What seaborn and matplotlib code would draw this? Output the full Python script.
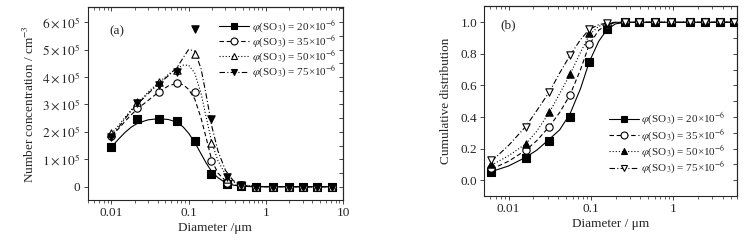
import matplotlib
matplotlib.use("Agg")
import matplotlib.pyplot as plt
from matplotlib.lines import Line2D
from matplotlib.ticker import MultipleLocator, NullFormatter, LogLocator
import seaborn as sns

sns.set_style("ticks")
plt.rcParams["font.family"] = ["Liberation Serif", "DejaVu Serif"]
plt.rcParams["mathtext.fontset"] = "stix"
plt.rcParams["font.size"] = 9.5
plt.rcParams["axes.linewidth"] = 0.8

so3_levels = ["20", "35", "50", "75"]

# ---- panel (a): number concentration, units of 1e5 cm^-3
diam_a = [0.01, 0.0217, 0.041, 0.0713, 0.12, 0.196, 0.313, 0.479, 0.75, 1.23, 1.99, 3.0, 4.58, 7.3]
conc_a = [
    [1.45, 2.47, 2.47, 2.39, 1.65, 0.46, 0.11, 0.04, 0, 0, 0, 0, 0, 0],
    [1.85, 2.87, 3.47, 3.78, 3.47, 0.95, 0.15, 0.05, 0, 0, 0, 0, 0, 0],
    [1.95, 3.10, 3.80, 4.27, 4.85, 1.58, 0.30, 0.06, 0, 0, 0, 0, 0, 0],
    [1.83, 3.05, 3.72, 4.17, 5.76, 2.48, 0.37, 0.05, 0, 0, 0, 0, 0, 0],
]
# fitted curves
fit_x_a = [0.01, 0.0125, 0.015, 0.018, 0.022, 0.03, 0.041, 0.055, 0.071, 0.085, 0.1, 0.12,
           0.145, 0.17, 0.2, 0.24, 0.3, 0.38, 0.48, 0.75, 7.3]
fit_a = [
    [1.45, 1.75, 1.98, 2.17, 2.32, 2.44, 2.48, 2.45, 2.35, 2.18, 1.95, 1.62, 1.2, 0.85, 0.55, 0.33, 0.15, 0.06, 0.02, 0, 0],
    [1.85, 2.13, 2.38, 2.62, 2.85, 3.15, 3.45, 3.68, 3.77, 3.72, 3.55, 3.2, 2.5, 1.75, 0.95, 0.5, 0.22, 0.08, 0.03, 0, 0],
    [1.93, 2.25, 2.53, 2.8, 3.05, 3.45, 3.8, 4.1, 4.32, 4.43, 4.43, 4.15, 3.4, 2.5, 1.6, 0.95, 0.45, 0.18, 0.06, 0.01, 0],
    [1.85, 2.18, 2.48, 2.76, 3.02, 3.4, 3.75, 4.05, 4.35, 4.7, 5.0, 4.95, 4.3, 3.3, 2.2, 1.3, 0.6, 0.22, 0.08, 0.01, 0],
]

# ---- panel (b): cumulative distribution
diam_b = [0.0062, 0.0162, 0.0314, 0.0559, 0.096, 0.158, 0.264, 0.387, 0.605, 0.955, 1.62, 2.42, 3.68, 5.5]
cum_b = [
    [0.05, 0.14, 0.25, 0.40, 0.75, 0.96, 1, 1, 1, 1, 1, 1, 1, 1],
    [0.075, 0.19, 0.34, 0.54, 0.86, 0.985, 1, 1, 1, 1, 1, 1, 1, 1],
    [0.10, 0.23, 0.43, 0.67, 0.93, 0.99, 1, 1, 1, 1, 1, 1, 1, 1],
    [0.125, 0.34, 0.56, 0.79, 0.955, 0.995, 1, 1, 1, 1, 1, 1, 1, 1],
]
fit_x_b = [0.0062, 0.01, 0.0162, 0.022, 0.0314, 0.042, 0.0559, 0.075, 0.096, 0.125, 0.158, 0.2, 0.264, 5.5]
fit_b = [
    [0.055, 0.09, 0.145, 0.19, 0.26, 0.32, 0.42, 0.58, 0.75, 0.88, 0.955, 0.99, 1.0, 1.0],
    [0.07, 0.12, 0.19, 0.25, 0.34, 0.43, 0.54, 0.70, 0.86, 0.95, 0.985, 0.998, 1.0, 1.0],
    [0.095, 0.155, 0.23, 0.31, 0.43, 0.55, 0.67, 0.81, 0.92, 0.975, 0.99, 1.0, 1.0, 1.0],
    [0.12, 0.22, 0.34, 0.44, 0.56, 0.68, 0.79, 0.89, 0.955, 0.985, 0.995, 1.0, 1.0, 1.0],
]

# marker, face colour, line style
styles_a = [("s", "k", "-"), ("o", "white", (0, (4, 2.5))), ("^", "white", (0, (1, 1.8))), ("v", "k", (0, (5, 2, 1, 2)))]
styles_b = [("s", "k", "-"), ("o", "white", (0, (4, 2.5))), ("^", "k", (0, (1, 1.8))), ("v", "white", (0, (5, 2, 1, 2)))]


def label(level):
    return r"$\varphi$(SO$_3$) = " + level + r"×10$^{-6}$"


def draw(ax, xs, ys_all, fx, fy_all, styles):
    for ys, fy, (m, fc, ls) in zip(ys_all, fy_all, styles):
        sns.lineplot(x=fx, y=fy, ax=ax, color="k", lw=0.8, linestyle=ls,
                     estimator=None, sort=False, legend=False)
        sns.scatterplot(x=xs, y=ys, ax=ax, marker=m, s=28, color=fc,
                        edgecolor="k", linewidth=0.8, zorder=3, legend=False)
    handles = [Line2D([], [], color="k", lw=0.8, linestyle=ls, marker=m, markersize=5.0,
                      markerfacecolor=fc, markeredgecolor="k", markeredgewidth=0.8)
               for m, fc, ls in styles]
    return handles


def mirror(ax, ymajor, yminor):
    top = ax.secondary_xaxis("top")
    top.tick_params(which="both", direction="in", labeltop=False)
    top.tick_params(which="major", length=3, width=0.6)
    top.tick_params(which="minor", length=1.8, width=0.5)
    top.xaxis.set_major_formatter(NullFormatter())
    top.xaxis.set_minor_formatter(NullFormatter())
    right = ax.secondary_yaxis("right")
    right.yaxis.set_major_locator(MultipleLocator(ymajor))
    right.yaxis.set_minor_locator(MultipleLocator(yminor))
    right.yaxis.set_major_formatter(NullFormatter())
    right.tick_params(which="both", direction="in", labelright=False)
    right.tick_params(which="major", length=3, width=0.6)
    right.tick_params(which="minor", length=3, width=0.6)


fig = plt.figure(figsize=(7.55, 2.43), dpi=100)
ax1 = fig.add_axes([0.1159, 0.1749, 0.3384, 0.7963])
ax2 = fig.add_axes([0.6417, 0.1934, 0.3345, 0.7799])

# panel a
ax1.set_xscale("log")
h1 = draw(ax1, diam_a, conc_a, fit_x_a, fit_a, styles_a)
ax1.set_xlim(0.0049, 10)
ax1.set_ylim(-0.5, 6.55)
ax1.set_xticks([0.01, 0.1, 1, 10], ["0.01", "0.1", "1", "10"])
ax1.xaxis.set_minor_locator(LogLocator(subs=range(2, 10)))
ax1.xaxis.set_minor_formatter(NullFormatter())
ax1.set_yticks(range(7), ["0"] + [rf"${k}\times10^5$" for k in range(1, 7)])
ax1.set_xlabel("Diameter /μm", labelpad=2)
ax1.set_ylabel("Number concentration / cm$^{-3}$", labelpad=4)
ax1.text(0.114, 0.872, "(a)", transform=ax1.transAxes, ha="center", va="center")
ax1.legend(h1, [label(v) for v in so3_levels], loc="upper right", bbox_to_anchor=(0.995, 0.97),
           frameon=False, handlelength=2.7, handletextpad=0.2, labelspacing=-0.1,
           borderaxespad=0.1, fontsize=8)
mirror(ax1, 1, 0.5)

# panel b
ax2.set_xscale("log")
h2 = draw(ax2, diam_b, cum_b, fit_x_b, fit_b, styles_b)
ax2.set_xlim(0.0051, 6.0)
ax2.set_ylim(-0.1, 1.1)
ax2.set_xticks([0.01, 0.1, 1], ["0.01", "0.1", "1"])
ax2.xaxis.set_minor_locator(LogLocator(subs=range(2, 10)))
ax2.xaxis.set_minor_formatter(NullFormatter())
ax2.set_yticks([0, 0.2, 0.4, 0.6, 0.8, 1.0], ["0.0", "0.2", "0.4", "0.6", "0.8", "1.0"])
ax2.set_xlabel("Diameter / μm", labelpad=2)
ax2.set_ylabel("Cumulative distribution", labelpad=6)
ax2.text(0.094, 0.902, "(b)", transform=ax2.transAxes, ha="center", va="center")
ax2.legend(h2, [label(v) for v in so3_levels], loc="lower right", bbox_to_anchor=(0.978, 0.074),
           frameon=False, handlelength=2.7, handletextpad=0.2, labelspacing=0.0,
           borderaxespad=0.1, fontsize=8)
mirror(ax2, 0.2, 0.1)

for ax in (ax1, ax2):
    ax.tick_params(which="both", direction="out", top=False, right=False, labelsize=9.5, pad=2)
    ax.tick_params(which="major", length=3, width=0.6)
    ax.tick_params(which="minor", length=1.8, width=0.5)
    ax.tick_params(axis="y", which="minor", left=False)
    for sp in ax.spines.values():
        sp.set_visible(True)
        sp.set_linewidth(0.8)

fig.savefig("out.png", dpi=100)
